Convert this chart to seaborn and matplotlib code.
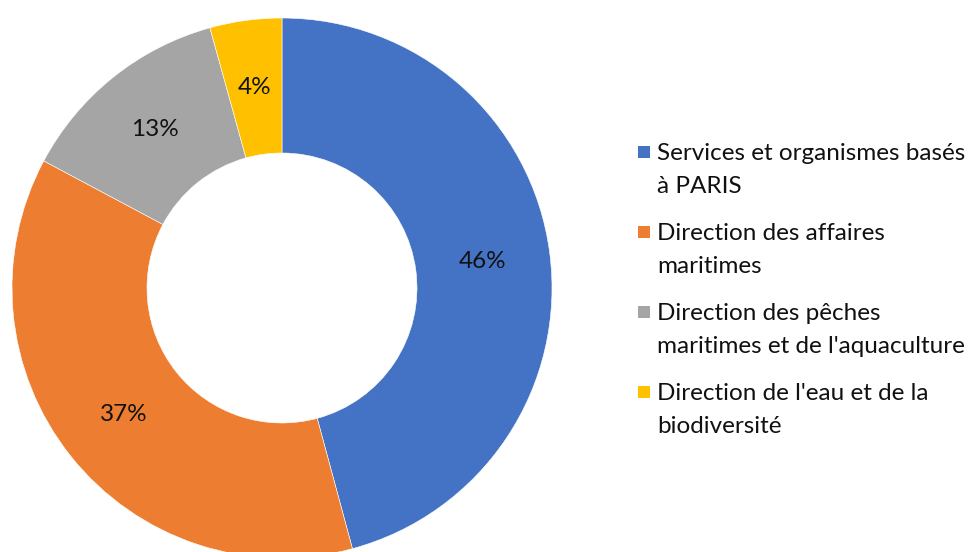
import matplotlib
matplotlib.use("Agg")
import matplotlib.pyplot as plt
import seaborn as sns
import numpy as np
from matplotlib.patches import Rectangle

categories = ["Services et organismes basés\nà PARIS",
              "Direction des affaires\nmaritimes",
              "Direction des pêches\nmaritimes et de l'aquaculture",
              "Direction de l'eau et de la\nbiodiversité"]
values = [45.8, 37.0, 12.9, 4.3]
labels = ["46%", "37%", "13%", "4%"]
colors = ["#4472C4", "#ED7D31", "#A5A5A5", "#FFC000"]

sns.set_theme(style="white")
plt.rcParams['font.family'] = ['Lato', 'DejaVu Sans']

W, H = 978, 552
fig = plt.figure(figsize=(W / 100, H / 100), dpi=100)
ax = fig.add_axes([0, 0, 1, 1])

cx, cy, R = 282, H - 288, 270
palette = sns.color_palette(colors)
wedges, _ = ax.pie(values, colors=palette, startangle=90, counterclock=False,
                   radius=R, center=(cx, cy),
                   wedgeprops=dict(width=R * 0.5, edgecolor="white", linewidth=0.4))
for w, lab in zip(wedges, labels):
    ang = np.deg2rad((w.theta1 + w.theta2) / 2)
    r = R * 0.75
    ax.text(cx + r * np.cos(ang), cy + r * np.sin(ang), lab,
            ha="center", va="center", fontsize=17.5, color="#111111")

ax.set_xlim(0, W)
ax.set_ylim(0, H)
ax.set_aspect("equal")
ax.axis("off")

# legend drawn in figure pixel coordinates (y from top)
y_first = 152
entry_step = 80
line_step = 32.5
for i, (c, cat) in enumerate(zip(colors, categories)):
    y0 = y_first + i * entry_step
    fig.patches.append(Rectangle(((638) / W, 1 - (y0 + 6) / H), 12 / W, 12 / H,
                                 transform=fig.transFigure, facecolor=c,
                                 edgecolor="none"))
    for k, line in enumerate(cat.split("\n")):
        yy = y0 + k * line_step
        fig.text(657 / W, 1 - yy / H, line, ha="left", va="center_baseline",
                 fontsize=17.5, color="#111111")

fig.savefig("out.png", dpi=100)
